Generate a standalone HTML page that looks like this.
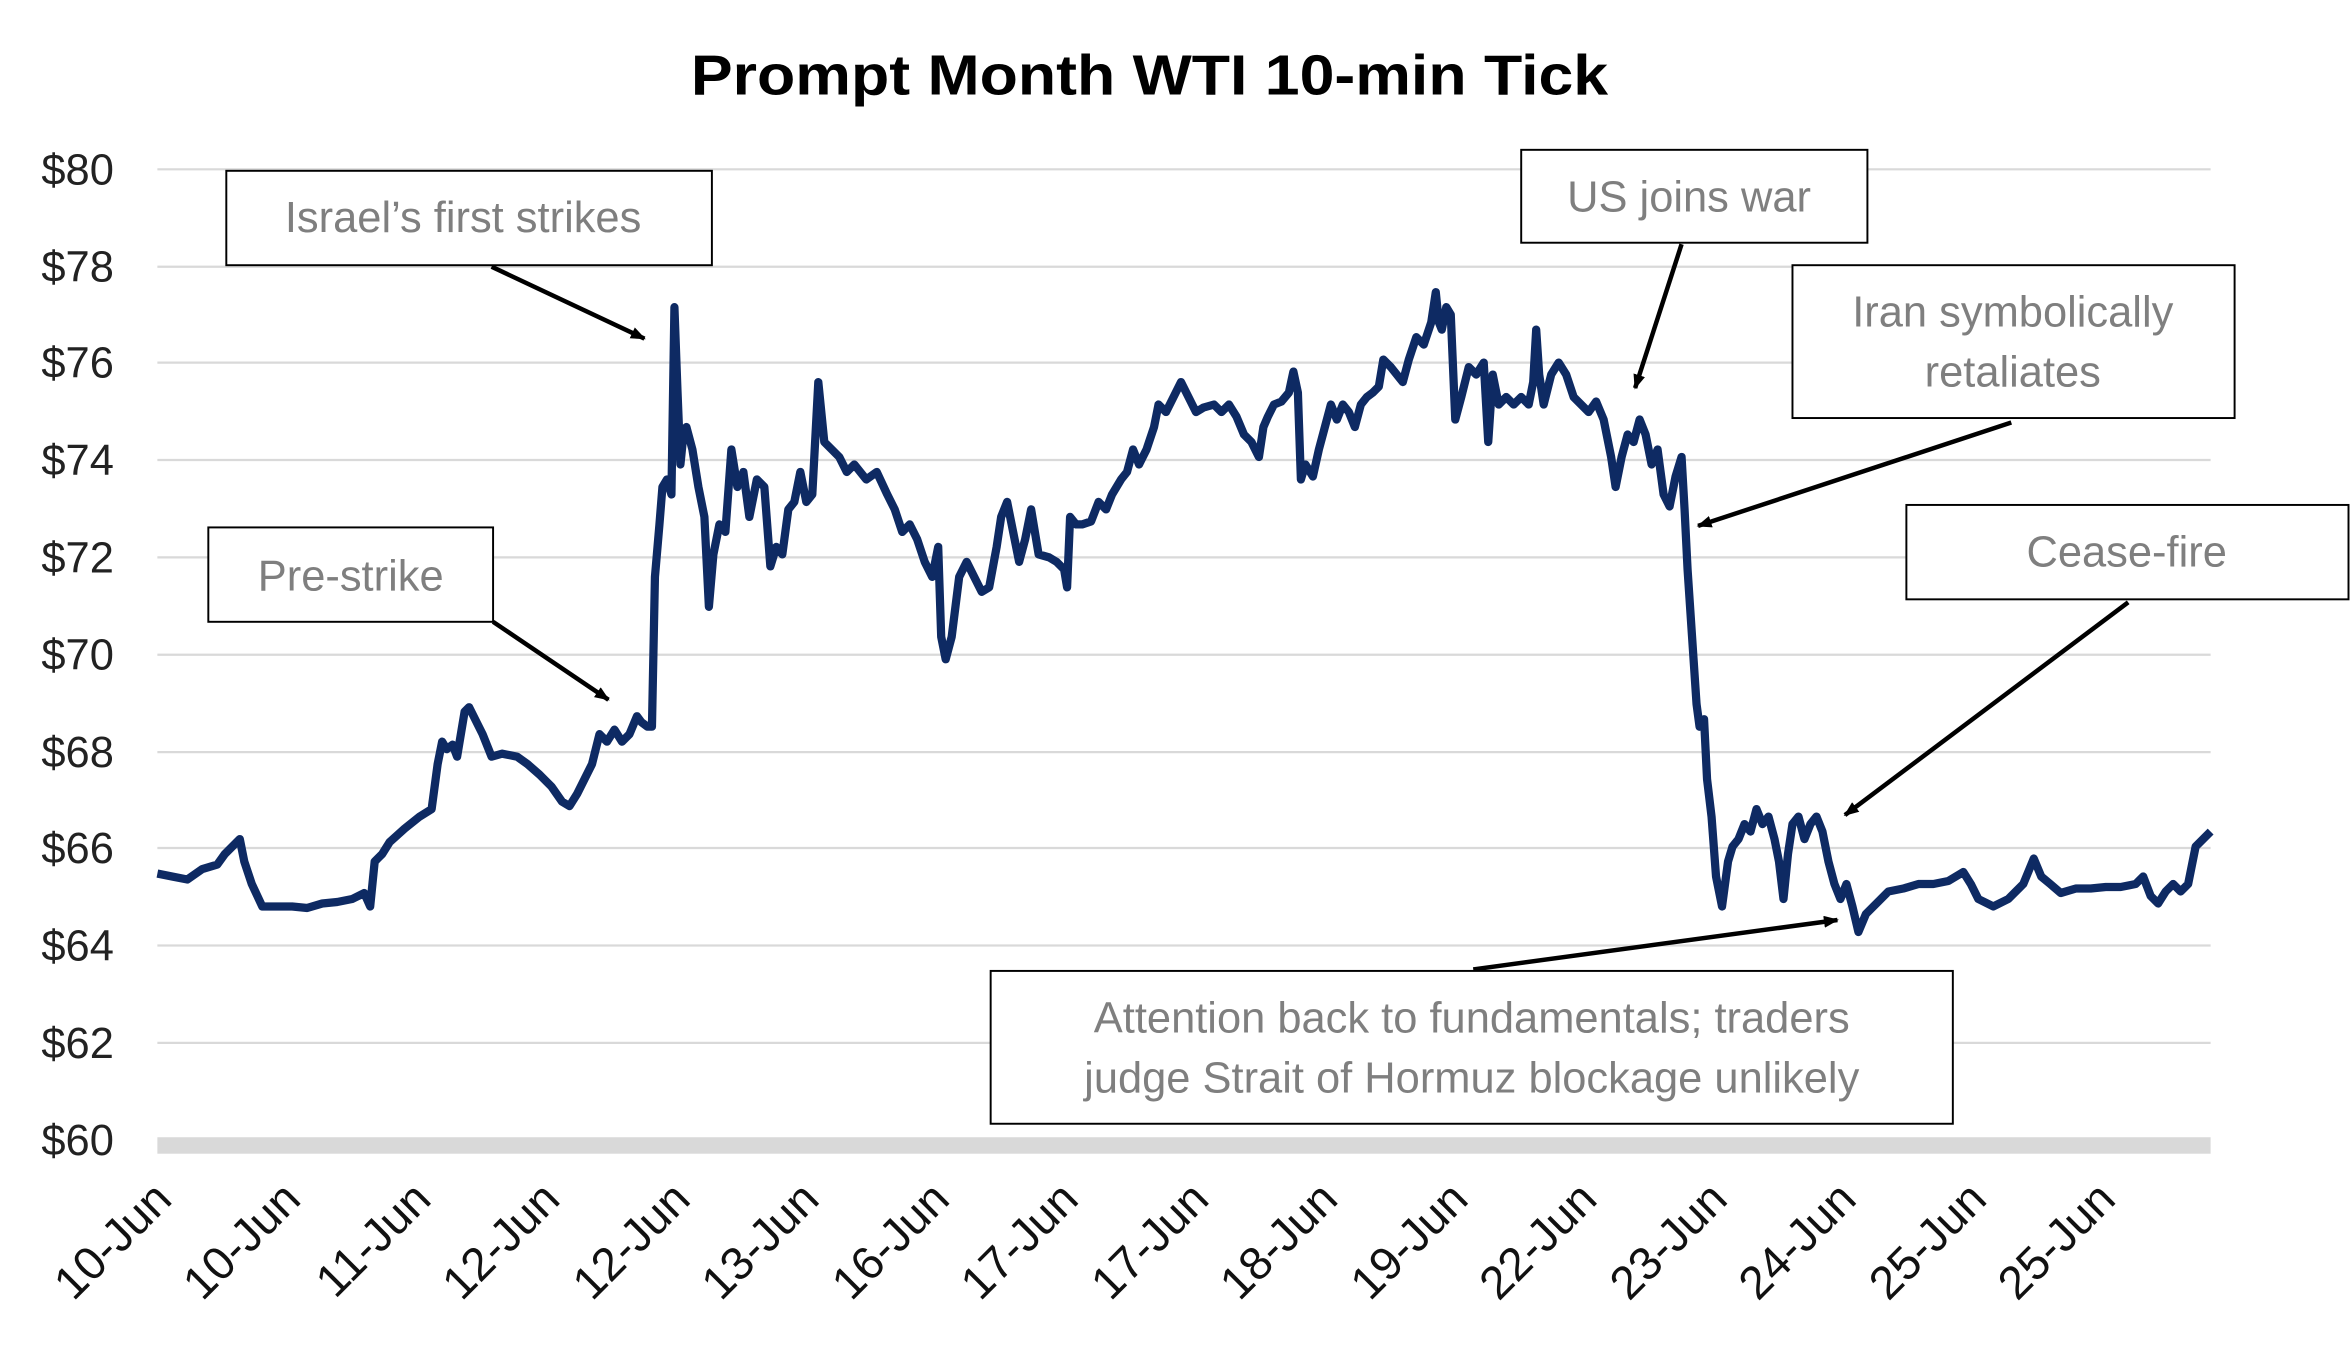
<!DOCTYPE html>
<html><head><meta charset="utf-8"><style>
html,body{margin:0;padding:0;background:#fff;}
svg{display:block;}
text{font-family:"Liberation Sans",sans-serif;}
</style></head><body>
<svg width="2350" height="1347" viewBox="0 0 1568 899" preserveAspectRatio="none" xmlns="http://www.w3.org/2000/svg">
<defs><marker id="ah" markerWidth="10" markerHeight="8" refX="9" refY="4" orient="auto" markerUnits="userSpaceOnUse"><path d="M0,0 L10,4 L0,8 z" fill="#000"/></marker></defs>
<rect width="1568" height="899" fill="#fff"/>
<text x="767" y="63" text-anchor="middle" font-size="38" font-weight="bold" fill="#000" textLength="612" lengthAdjust="spacingAndGlyphs">Prompt Month WTI 10-min Tick</text>
<g stroke="#d9d9d9" stroke-width="1.5">
<line x1="105" x2="1475" y1="113" y2="113"/><line x1="105" x2="1475" y1="178" y2="178"/><line x1="105" x2="1475" y1="242" y2="242"/><line x1="105" x2="1475" y1="307" y2="307"/><line x1="105" x2="1475" y1="372" y2="372"/><line x1="105" x2="1475" y1="437" y2="437"/><line x1="105" x2="1475" y1="502" y2="502"/><line x1="105" x2="1475" y1="566" y2="566"/><line x1="105" x2="1475" y1="631" y2="631"/><line x1="105" x2="1475" y1="696" y2="696"/>
</g>
<rect x="105" y="759" width="1370" height="11" fill="#d9d9d9"/>
<g font-size="29" fill="#222" text-anchor="end">
<text x="76" y="123">$80</text><text x="76" y="188">$78</text><text x="76" y="252">$76</text><text x="76" y="317">$74</text><text x="76" y="382">$72</text><text x="76" y="447">$70</text><text x="76" y="512">$68</text><text x="76" y="576">$66</text><text x="76" y="641">$64</text><text x="76" y="706">$62</text><text x="76" y="771">$60</text>
</g>
<g font-size="31" fill="#111" text-anchor="end">
<text transform="translate(116,802) rotate(-45)">10-Jun</text>
<text transform="translate(202,802) rotate(-45)">10-Jun</text>
<text transform="translate(289,802) rotate(-45)">11-Jun</text>
<text transform="translate(375,802) rotate(-45)">12-Jun</text>
<text transform="translate(462,802) rotate(-45)">12-Jun</text>
<text transform="translate(548,802) rotate(-45)">13-Jun</text>
<text transform="translate(635,802) rotate(-45)">16-Jun</text>
<text transform="translate(721,802) rotate(-45)">17-Jun</text>
<text transform="translate(808,802) rotate(-45)">17-Jun</text>
<text transform="translate(894,802) rotate(-45)">18-Jun</text>
<text transform="translate(981,802) rotate(-45)">19-Jun</text>
<text transform="translate(1067,802) rotate(-45)">22-Jun</text>
<text transform="translate(1154,802) rotate(-45)">23-Jun</text>
<text transform="translate(1240,802) rotate(-45)">24-Jun</text>
<text transform="translate(1327,802) rotate(-45)">25-Jun</text>
<text transform="translate(1413,802) rotate(-45)">25-Jun</text>
</g>
<polyline fill="none" stroke="#0e2a63" stroke-width="5.5" stroke-linejoin="round" points="105,583 115,585 125,587 135,580 145,577 150,570 155,565 160,560 163,575 168,590 175,605 185,605 195,605 205,606 215,603 225,602 235,600 243,596 247,605 250,575 255,570 260,562 270,553 280,545 288,540 292,510 295,495 298,500 302,497 305,505 310,475 313,472 318,482 322,490 328,505 335,503 345,505 352,510 360,517 368,525 375,535 380,538 385,530 390,520 395,510 400,490 405,495 410,487 415,495 420,490 425,478 428,482 432,485 435,485 437,385 440,350 442,325 445,320 448,330 450,205 452,260 454,310 456,290 458,285 462,300 466,325 470,345 473,405 476,370 480,350 484,355 488,300 492,325 496,315 500,345 505,320 510,325 514,378 518,365 522,370 526,340 530,335 534,315 538,335 542,330 546,255 550,295 555,300 560,305 565,315 570,310 578,320 585,315 592,330 597,340 602,355 607,350 612,360 617,375 622,385 626,365 628,425 631,440 635,425 640,385 645,375 650,385 655,395 660,392 665,365 668,345 672,335 676,355 680,375 684,360 688,340 693,370 700,372 705,375 710,380 712,392 714,345 718,350 722,350 728,348 733,335 738,340 742,330 748,320 752,315 756,300 760,310 765,300 770,285 773,270 778,275 783,265 788,255 793,265 798,275 803,272 810,270 815,275 820,270 825,278 830,290 835,295 840,305 843,285 846,278 850,270 855,268 860,262 863,248 866,262 868,320 871,310 876,318 880,300 884,285 888,270 892,280 896,270 900,275 904,285 908,270 912,265 916,262 920,258 923,240 928,245 932,250 936,255 940,240 945,225 950,230 955,215 958,195 960,215 962,220 965,205 968,210 971,280 975,265 980,245 985,250 990,242 993,295 996,250 1000,270 1005,265 1010,270 1015,265 1020,270 1023,255 1025,220 1027,250 1030,270 1035,250 1040,242 1045,250 1050,265 1055,270 1060,275 1065,268 1070,280 1075,305 1078,325 1082,305 1086,290 1090,295 1094,280 1098,290 1102,310 1106,300 1110,330 1114,338 1118,318 1122,305 1124,340 1126,380 1128,410 1130,440 1132,470 1134,485 1137,480 1139,520 1142,545 1145,585 1149,605 1153,575 1156,565 1160,560 1164,550 1168,555 1172,540 1176,550 1180,545 1184,560 1187,575 1190,600 1193,570 1196,550 1200,545 1204,560 1208,550 1212,545 1216,555 1220,575 1224,590 1228,600 1232,590 1236,605 1240,622 1245,610 1250,605 1255,600 1260,595 1270,593 1280,590 1290,590 1300,588 1310,582 1315,590 1320,600 1330,605 1340,600 1350,590 1357,573 1362,585 1368,590 1375,596 1385,593 1395,593 1405,592 1415,592 1425,590 1430,585 1435,598 1440,603 1445,595 1450,590 1455,595 1460,590 1465,565 1470,560 1475,555"/>
<g stroke="#000" stroke-width="3" marker-end="url(#ah)">
<line x1="328" y1="178" x2="430" y2="226"/>
<line x1="329" y1="415" x2="406" y2="467"/>
<line x1="1122" y1="163" x2="1091" y2="259"/>
<line x1="1342" y1="282" x2="1133" y2="351"/>
<line x1="1420" y1="402" x2="1231" y2="544"/>
<line x1="983" y1="647" x2="1226" y2="614"/>
</g>
<g fill="#fff" stroke="#000" stroke-width="1.3">
<rect x="151" y="114" width="324" height="63"/>
<rect x="139" y="352" width="190" height="63"/>
<rect x="1015" y="100" width="231" height="62"/>
<rect x="1196" y="177" width="295" height="102"/>
<rect x="1272" y="337" width="295" height="63"/>
<rect x="661" y="648" width="642" height="102"/>
</g>
<g font-size="29" fill="#7f7f7f" text-anchor="middle">
<text x="309" y="155">Israel’s first strikes</text>
<text x="234" y="394">Pre-strike</text>
<text x="1127" y="141">US joins war</text>
<text x="1343" y="218">Iran symbolically</text>
<text x="1343" y="258">retaliates</text>
<text x="1419" y="378">Cease-fire</text>
<text x="982" y="689">Attention back to fundamentals; traders</text>
<text x="982" y="729">judge Strait of Hormuz blockage unlikely</text>
</g>
</svg>
</body></html>
